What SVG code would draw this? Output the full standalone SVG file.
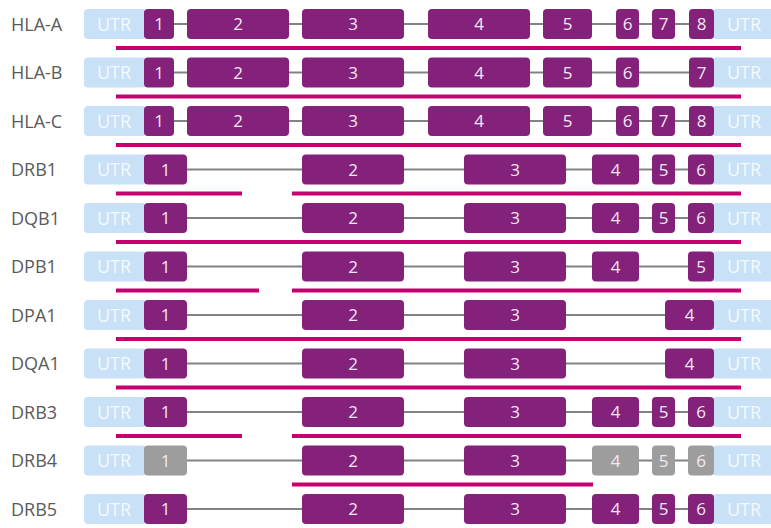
<svg xmlns="http://www.w3.org/2000/svg" width="771" height="528" viewBox="0 0 771 528">
<style>
.lbl{font-family:"Open Sans","Noto Sans",sans-serif;font-size:18px;fill:#5a5a5a}
.utr{fill:#c8e1f7}
.ut{font-family:"Open Sans","Noto Sans",sans-serif;font-size:18px;fill:#f4f9fe;text-anchor:middle}
.ex{fill:#83217b}
.gx{fill:#9d9d9d}
.et{font-family:"Open Sans","Noto Sans",sans-serif;font-size:17px;fill:#f3e9f2;text-anchor:middle}
.bb{stroke:#828282;stroke-width:2;fill:none}
.pk{fill:#c7006f}
</style>
<g id="connectors">
<line class="bb" x1="174" y1="24" x2="690" y2="24"/>
<line class="bb" x1="174" y1="72.5" x2="690" y2="72.5"/>
<line class="bb" x1="174" y1="121" x2="690" y2="121"/>
<line class="bb" x1="187" y1="169.5" x2="690" y2="169.5"/>
<line class="bb" x1="187" y1="218" x2="690" y2="218"/>
<line class="bb" x1="187" y1="266.5" x2="690" y2="266.5"/>
<line class="bb" x1="187" y1="315" x2="666" y2="315"/>
<line class="bb" x1="187" y1="363.5" x2="666" y2="363.5"/>
<line class="bb" x1="187" y1="412" x2="690" y2="412"/>
<line class="bb" x1="187" y1="460.5" x2="690" y2="460.5"/>
<line class="bb" x1="187" y1="509" x2="690" y2="509"/>
</g>
<g id="coverage">
<rect class="pk" x="116" y="46" width="625" height="4"/>
<rect class="pk" x="116" y="94.5" width="625" height="4"/>
<rect class="pk" x="116" y="143" width="625" height="4"/>
<rect class="pk" x="116" y="191.5" width="126" height="4"/>
<rect class="pk" x="292" y="191.5" width="449" height="4"/>
<rect class="pk" x="116" y="240" width="625" height="4"/>
<rect class="pk" x="116" y="288.5" width="143" height="4"/>
<rect class="pk" x="292" y="288.5" width="449" height="4"/>
<rect class="pk" x="116" y="337" width="625" height="4"/>
<rect class="pk" x="116" y="385.5" width="625" height="4"/>
<rect class="pk" x="116" y="434" width="126" height="4"/>
<rect class="pk" x="292" y="434" width="449" height="4"/>
<rect class="pk" x="292" y="482.5" width="301" height="4"/>
</g>
<g id="HLA-A">
<text class="lbl" x="11" y="30.5">HLA-A</text>
<rect class="utr" x="84" y="9" width="62" height="30" rx="4"/><text class="ut" x="114" y="30.5">UTR</text>
<rect class="utr" x="712" y="9" width="64" height="30" rx="4"/><text class="ut" x="744" y="30.5">UTR</text>
<rect class="ex" x="144" y="9" width="30" height="30" rx="4"/><text class="et" x="159" y="30">1</text>
<rect class="ex" x="187" y="9" width="102" height="30" rx="4"/><text class="et" x="238" y="30">2</text>
<rect class="ex" x="302" y="9" width="102" height="30" rx="4"/><text class="et" x="353" y="30">3</text>
<rect class="ex" x="428" y="9" width="102" height="30" rx="4"/><text class="et" x="479" y="30">4</text>
<rect class="ex" x="543" y="9" width="49" height="30" rx="4"/><text class="et" x="567.5" y="30">5</text>
<rect class="ex" x="616" y="9" width="23" height="30" rx="4"/><text class="et" x="627.5" y="30">6</text>
<rect class="ex" x="652" y="9" width="23" height="30" rx="4"/><text class="et" x="663.5" y="30">7</text>
<rect class="ex" x="689" y="9" width="25" height="30" rx="4"/><text class="et" x="701.5" y="30">8</text>
</g>
<g id="HLA-B">
<text class="lbl" x="11" y="79">HLA-B</text>
<rect class="utr" x="84" y="57.5" width="62" height="30" rx="4"/><text class="ut" x="114" y="79">UTR</text>
<rect class="utr" x="712" y="57.5" width="64" height="30" rx="4"/><text class="ut" x="744" y="79">UTR</text>
<rect class="ex" x="144" y="57.5" width="30" height="30" rx="4"/><text class="et" x="159" y="78.5">1</text>
<rect class="ex" x="187" y="57.5" width="102" height="30" rx="4"/><text class="et" x="238" y="78.5">2</text>
<rect class="ex" x="302" y="57.5" width="102" height="30" rx="4"/><text class="et" x="353" y="78.5">3</text>
<rect class="ex" x="428" y="57.5" width="102" height="30" rx="4"/><text class="et" x="479" y="78.5">4</text>
<rect class="ex" x="543" y="57.5" width="49" height="30" rx="4"/><text class="et" x="567.5" y="78.5">5</text>
<rect class="ex" x="616" y="57.5" width="23" height="30" rx="4"/><text class="et" x="627.5" y="78.5">6</text>
<rect class="ex" x="689" y="57.5" width="25" height="30" rx="4"/><text class="et" x="701.5" y="78.5">7</text>
</g>
<g id="HLA-C">
<text class="lbl" x="11" y="127.5">HLA-C</text>
<rect class="utr" x="84" y="106" width="62" height="30" rx="4"/><text class="ut" x="114" y="127.5">UTR</text>
<rect class="utr" x="712" y="106" width="64" height="30" rx="4"/><text class="ut" x="744" y="127.5">UTR</text>
<rect class="ex" x="144" y="106" width="30" height="30" rx="4"/><text class="et" x="159" y="127">1</text>
<rect class="ex" x="187" y="106" width="102" height="30" rx="4"/><text class="et" x="238" y="127">2</text>
<rect class="ex" x="302" y="106" width="102" height="30" rx="4"/><text class="et" x="353" y="127">3</text>
<rect class="ex" x="428" y="106" width="102" height="30" rx="4"/><text class="et" x="479" y="127">4</text>
<rect class="ex" x="543" y="106" width="49" height="30" rx="4"/><text class="et" x="567.5" y="127">5</text>
<rect class="ex" x="616" y="106" width="23" height="30" rx="4"/><text class="et" x="627.5" y="127">6</text>
<rect class="ex" x="652" y="106" width="23" height="30" rx="4"/><text class="et" x="663.5" y="127">7</text>
<rect class="ex" x="689" y="106" width="25" height="30" rx="4"/><text class="et" x="701.5" y="127">8</text>
</g>
<g id="DRB1">
<text class="lbl" x="11" y="176">DRB1</text>
<rect class="utr" x="84" y="154.5" width="62" height="30" rx="4"/><text class="ut" x="114" y="176">UTR</text>
<rect class="utr" x="712" y="154.5" width="64" height="30" rx="4"/><text class="ut" x="744" y="176">UTR</text>
<rect class="ex" x="144" y="154.5" width="43" height="30" rx="4"/><text class="et" x="165.5" y="175.5">1</text>
<rect class="ex" x="302" y="154.5" width="102" height="30" rx="4"/><text class="et" x="353" y="175.5">2</text>
<rect class="ex" x="464" y="154.5" width="102" height="30" rx="4"/><text class="et" x="515" y="175.5">3</text>
<rect class="ex" x="592" y="154.5" width="47" height="30" rx="4"/><text class="et" x="615.5" y="175.5">4</text>
<rect class="ex" x="652" y="154.5" width="23" height="30" rx="4"/><text class="et" x="663.5" y="175.5">5</text>
<rect class="ex" x="688" y="154.5" width="26" height="30" rx="4"/><text class="et" x="701" y="175.5">6</text>
</g>
<g id="DQB1">
<text class="lbl" x="11" y="224.5">DQB1</text>
<rect class="utr" x="84" y="203" width="62" height="30" rx="4"/><text class="ut" x="114" y="224.5">UTR</text>
<rect class="utr" x="712" y="203" width="64" height="30" rx="4"/><text class="ut" x="744" y="224.5">UTR</text>
<rect class="ex" x="144" y="203" width="43" height="30" rx="4"/><text class="et" x="165.5" y="224">1</text>
<rect class="ex" x="302" y="203" width="102" height="30" rx="4"/><text class="et" x="353" y="224">2</text>
<rect class="ex" x="464" y="203" width="102" height="30" rx="4"/><text class="et" x="515" y="224">3</text>
<rect class="ex" x="592" y="203" width="47" height="30" rx="4"/><text class="et" x="615.5" y="224">4</text>
<rect class="ex" x="652" y="203" width="23" height="30" rx="4"/><text class="et" x="663.5" y="224">5</text>
<rect class="ex" x="688" y="203" width="26" height="30" rx="4"/><text class="et" x="701" y="224">6</text>
</g>
<g id="DPB1">
<text class="lbl" x="11" y="273">DPB1</text>
<rect class="utr" x="84" y="251.5" width="62" height="30" rx="4"/><text class="ut" x="114" y="273">UTR</text>
<rect class="utr" x="712" y="251.5" width="64" height="30" rx="4"/><text class="ut" x="744" y="273">UTR</text>
<rect class="ex" x="144" y="251.5" width="43" height="30" rx="4"/><text class="et" x="165.5" y="272.5">1</text>
<rect class="ex" x="302" y="251.5" width="102" height="30" rx="4"/><text class="et" x="353" y="272.5">2</text>
<rect class="ex" x="464" y="251.5" width="102" height="30" rx="4"/><text class="et" x="515" y="272.5">3</text>
<rect class="ex" x="592" y="251.5" width="47" height="30" rx="4"/><text class="et" x="615.5" y="272.5">4</text>
<rect class="ex" x="688" y="251.5" width="26" height="30" rx="4"/><text class="et" x="701" y="272.5">5</text>
</g>
<g id="DPA1">
<text class="lbl" x="11" y="321.5">DPA1</text>
<rect class="utr" x="84" y="300" width="62" height="30" rx="4"/><text class="ut" x="114" y="321.5">UTR</text>
<rect class="utr" x="712" y="300" width="64" height="30" rx="4"/><text class="ut" x="744" y="321.5">UTR</text>
<rect class="ex" x="144" y="300" width="43" height="30" rx="4"/><text class="et" x="165.5" y="321">1</text>
<rect class="ex" x="302" y="300" width="102" height="30" rx="4"/><text class="et" x="353" y="321">2</text>
<rect class="ex" x="464" y="300" width="102" height="30" rx="4"/><text class="et" x="515" y="321">3</text>
<rect class="ex" x="665" y="300" width="49" height="30" rx="4"/><text class="et" x="689.5" y="321">4</text>
</g>
<g id="DQA1">
<text class="lbl" x="11" y="370">DQA1</text>
<rect class="utr" x="84" y="348.5" width="62" height="30" rx="4"/><text class="ut" x="114" y="370">UTR</text>
<rect class="utr" x="712" y="348.5" width="64" height="30" rx="4"/><text class="ut" x="744" y="370">UTR</text>
<rect class="ex" x="144" y="348.5" width="43" height="30" rx="4"/><text class="et" x="165.5" y="369.5">1</text>
<rect class="ex" x="302" y="348.5" width="102" height="30" rx="4"/><text class="et" x="353" y="369.5">2</text>
<rect class="ex" x="464" y="348.5" width="102" height="30" rx="4"/><text class="et" x="515" y="369.5">3</text>
<rect class="ex" x="665" y="348.5" width="49" height="30" rx="4"/><text class="et" x="689.5" y="369.5">4</text>
</g>
<g id="DRB3">
<text class="lbl" x="11" y="418.5">DRB3</text>
<rect class="utr" x="84" y="397" width="62" height="30" rx="4"/><text class="ut" x="114" y="418.5">UTR</text>
<rect class="utr" x="712" y="397" width="64" height="30" rx="4"/><text class="ut" x="744" y="418.5">UTR</text>
<rect class="ex" x="144" y="397" width="43" height="30" rx="4"/><text class="et" x="165.5" y="418">1</text>
<rect class="ex" x="302" y="397" width="102" height="30" rx="4"/><text class="et" x="353" y="418">2</text>
<rect class="ex" x="464" y="397" width="102" height="30" rx="4"/><text class="et" x="515" y="418">3</text>
<rect class="ex" x="592" y="397" width="47" height="30" rx="4"/><text class="et" x="615.5" y="418">4</text>
<rect class="ex" x="652" y="397" width="23" height="30" rx="4"/><text class="et" x="663.5" y="418">5</text>
<rect class="ex" x="688" y="397" width="26" height="30" rx="4"/><text class="et" x="701" y="418">6</text>
</g>
<g id="DRB4">
<text class="lbl" x="11" y="467">DRB4</text>
<rect class="utr" x="84" y="445.5" width="62" height="30" rx="4"/><text class="ut" x="114" y="467">UTR</text>
<rect class="utr" x="712" y="445.5" width="64" height="30" rx="4"/><text class="ut" x="744" y="467">UTR</text>
<rect class="gx" x="144" y="445.5" width="43" height="30" rx="4"/><text class="et" x="165.5" y="466.5">1</text>
<rect class="ex" x="302" y="445.5" width="102" height="30" rx="4"/><text class="et" x="353" y="466.5">2</text>
<rect class="ex" x="464" y="445.5" width="102" height="30" rx="4"/><text class="et" x="515" y="466.5">3</text>
<rect class="gx" x="592" y="445.5" width="47" height="30" rx="4"/><text class="et" x="615.5" y="466.5">4</text>
<rect class="gx" x="652" y="445.5" width="23" height="30" rx="4"/><text class="et" x="663.5" y="466.5">5</text>
<rect class="gx" x="688" y="445.5" width="26" height="30" rx="4"/><text class="et" x="701" y="466.5">6</text>
</g>
<g id="DRB5">
<text class="lbl" x="11" y="515.5">DRB5</text>
<rect class="utr" x="84" y="494" width="62" height="30" rx="4"/><text class="ut" x="114" y="515.5">UTR</text>
<rect class="utr" x="712" y="494" width="64" height="30" rx="4"/><text class="ut" x="744" y="515.5">UTR</text>
<rect class="ex" x="144" y="494" width="43" height="30" rx="4"/><text class="et" x="165.5" y="515">1</text>
<rect class="ex" x="302" y="494" width="102" height="30" rx="4"/><text class="et" x="353" y="515">2</text>
<rect class="ex" x="464" y="494" width="102" height="30" rx="4"/><text class="et" x="515" y="515">3</text>
<rect class="ex" x="592" y="494" width="47" height="30" rx="4"/><text class="et" x="615.5" y="515">4</text>
<rect class="ex" x="652" y="494" width="23" height="30" rx="4"/><text class="et" x="663.5" y="515">5</text>
<rect class="ex" x="688" y="494" width="26" height="30" rx="4"/><text class="et" x="701" y="515">6</text>
</g>
</svg>
